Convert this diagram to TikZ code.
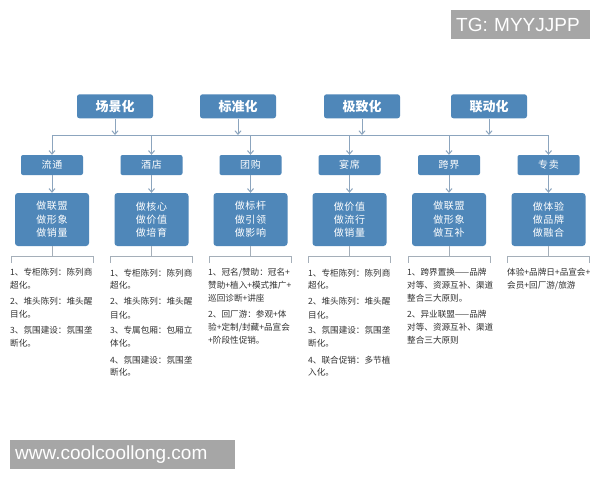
\documentclass[tikz,border=0pt]{standalone}
\usepackage{fontspec}
\setmainfont{Liberation Sans}
\newfontfamily\cjk{Noto Sans CJK SC}
\newfontfamily\cjksp[LetterSpace=7]{Noto Sans CJK SC}
\usetikzlibrary{arrows.meta,calc}
\definecolor{boxblue}{RGB}{79,135,185}
\definecolor{linec}{RGB}{140,165,190}
\definecolor{brc}{RGB}{165,175,185}
\definecolor{txt}{RGB}{50,50,50}
\definecolor{wmgray}{RGB}{166,166,166}
\tikzset{
  topbox/.style={fill=boxblue, rounded corners=2.5pt, minimum width=76pt, minimum height=24pt, inner sep=0pt, text=white, font=\cjk\bfseries\fontsize{13}{15}\selectfont},
  catbox/.style={fill=boxblue, rounded corners=2pt, minimum width=62pt, minimum height=20pt, inner sep=0pt, text=white, font=\cjksp\fontsize{10}{12}\selectfont},
  dobox/.style={fill=boxblue, rounded corners=3pt, minimum width=74pt, minimum height=53pt, inner sep=0pt, text=white, align=center, font=\cjksp\fontsize{10}{13.3}\selectfont},
  arr/.style={draw=linec, line width=1pt, -{Straight Barb[length=3.5pt,width=6pt]}},
  busline/.style={draw=linec, line width=1pt},
  brline/.style={draw=brc, line width=0.9pt},
  desc/.style={anchor=north west, inner sep=0pt, align=left, text=txt, font=\cjk\fontsize{8.6}{13}\selectfont},
  wm/.style={fill=wmgray, text=white, font=\fontsize{19}{21}\selectfont, inner xsep=5pt, inner ysep=0pt, minimum height=29pt, align=left, anchor=north west}
}
\begin{document}
\begin{tikzpicture}[x=1pt,y=-1pt]
\useasboundingbox (0,0) rectangle (600,480);
\fill[white] (0,0) rectangle (600,480);

% watermarks
\node[wm, text width=129pt] (tg) at (451,10) {TG: MYYJJPP};
\node[wm, text width=215pt] (www) at (10,440) {www.coolcoollong.com};

% top row
\node[topbox] (t1) at (115,106.3) {场景化};
\node[topbox] (t2) at (238,106.3) {标准化};
\node[topbox] (t3) at (362,106.3) {极致化};
\node[topbox] (t4) at (489,106.3) {联动化};

% bus
\coordinate (bL) at (52,135);
\coordinate (bR) at (548.5,135);
\draw[busline] (bL) -- (bR);
\foreach \i in {1,2,3,4}{
  \draw[arr] (t\i.south) -- (t\i.south |- bL);
}

% category row
\node[catbox] (c1) at (52,165) {流通};
\node[catbox] (c2) at (151.5,165) {酒店};
\node[catbox] (c3) at (250.5,165) {团购};
\node[catbox] (c4) at (349.5,165) {宴席};
\node[catbox] (c5) at (449,165) {跨界};
\node[catbox] (c6) at (548.5,165) {专卖};

\foreach \i in {1,...,6}{
  \draw[arr] (c\i.north |- bL) -- (c\i.north);
}

% do row
\node[dobox] (d1) at (52,219.5) {做联盟\\做形象\\做销量};
\node[dobox] (d2) at (151.5,219.5) {做核心\\做价值\\做培育};
\node[dobox] (d3) at (250.5,219.5) {做标杆\\做引领\\做影响};
\node[dobox] (d4) at (349.5,219.5) {做价值\\做流行\\做销量};
\node[dobox] (d5) at (449,219.5) {做联盟\\做形象\\做互补};
\node[dobox] (d6) at (548.5,219.5) {做体验\\做品牌\\做融合};

\foreach \i in {1,...,6}{
  \draw[arr] (c\i.south) -- (d\i.north);
  \coordinate (k\i) at ($(d\i.south)+(0,10.5)$);
  \draw[brline] (d\i.south) -- (k\i);
  \draw[brline] ($(k\i)+(-41,6)$) -- ++(0,-6) -- ++(82,0) -- ++(0,6);
}

% descriptions
\node[desc] (e1) at (10,268.5) {1、专柜陈列：陈列商\\超化。\\[3pt]2、堆头陈列：堆头醒\\目化。\\[3pt]3、氛围建设：氛围垄\\断化。};
\node[desc] (e2) at (110,268.5) {1、专柜陈列：陈列商\\超化。\\[3pt]2、堆头陈列：堆头醒\\目化。\\[3pt]3、专属包厢：包厢立\\体化。\\[3pt]4、氛围建设：氛围垄\\断化。};
\node[desc] (e3) at (208,268.5) {1、冠名/赞助：冠名+\\赞助+植入+模式推广+\\巡回诊断+讲座\\[3pt]2、回厂游：参观+体\\验+定制/封藏+品宣会\\+阶段性促销。};
\node[desc] (e4) at (308,268.5) {1、专柜陈列：陈列商\\超化。\\[3pt]2、堆头陈列：堆头醒\\目化。\\[3pt]3、氛围建设：氛围垄\\断化。\\[3pt]4、联合促销：多节植\\入化。};
\node[desc] (e5) at (407,268.5) {1、跨界置换——品牌\\对等、资源互补、渠道\\整合三大原则。\\[3pt]2、异业联盟——品牌\\对等、资源互补、渠道\\整合三大原则};
\node[desc] (e6) at (507,268.5) {体验+品牌日+品宣会+\\会员+回厂游/旅游};
\end{tikzpicture}
\end{document}
